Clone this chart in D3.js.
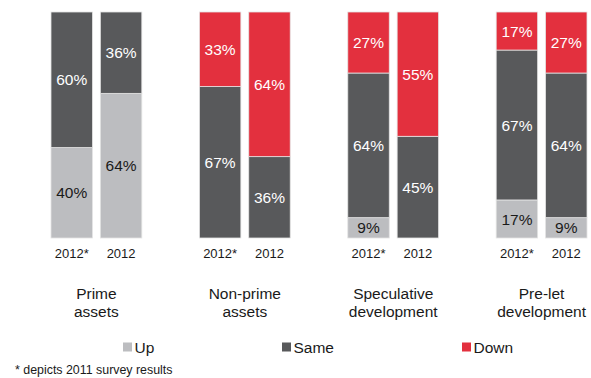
<!DOCTYPE html>
<html>
<head>
<meta charset="utf-8">
<script src="https://cdn.jsdelivr.net/npm/d3@7"></script>
<style>
  html, body { margin: 0; padding: 0; background: #fff; }
  svg { display: block; font-family: "Liberation Sans", Arial, sans-serif; }
</style>
</head>
<body>
<svg id="chart" width="591" height="378"></svg>
<script>
// Survey groups and the two years shown for each
const groups = ["Prime\nassets", "Non-prime\nassets", "Speculative\ndevelopment", "Pre-let\ndevelopment"];
const years = ["2012*", "2012"];
const seriesNames = ["Up", "Same", "Down"];
const seriesColors = ["#bcbdc0", "#58595b", "#e3303e"];
const labelColors = ["#1a1a1a", "#ffffff", "#ffffff"];

// Percentages per group, ordered [2012*, 2012]
const upValues   = [[40, 64], [0, 0],   [9, 0],   [17, 9]];
const sameValues = [[60, 36], [67, 36], [64, 45], [67, 64]];
const downValues = [[0, 0],   [33, 64], [27, 55], [17, 27]];

const footnote = "* depicts 2011 survey results";

const svg = d3.select("#chart");

const x0 = d3.scaleBand().domain(groups).range([51, 587]).paddingInner(0.388).paddingOuter(0);
const x1 = d3.scaleBand().domain(years).range([0, x0.bandwidth()]).paddingInner(0.16).paddingOuter(0);
const y = d3.scaleLinear().domain([0, 1]).range([238, 12]);

// Flatten into bar records with stacked segments (bottom to top: Up, Same, Down)
const bars = [];
groups.forEach((g, gi) => {
  years.forEach((yr, yi) => {
    const vals = [upValues[gi][yi], sameValues[gi][yi], downValues[gi][yi]];
    const total = d3.sum(vals);
    let acc = 0;
    const segs = vals.map((v, si) => {
      const s = { group: g, year: yr, series: si, value: v, y0: acc / total, y1: (acc + v) / total };
      acc += v;
      return s;
    });
    bars.push({ group: g, year: yr, segs });
  });
});

const barG = svg.append("g").selectAll("g.bar")
  .data(bars)
  .join("g")
  .attr("class", "bar")
  .attr("transform", d => `translate(${x0(d.group) + x1(d.year)},0)`);

barG.selectAll("rect")
  .data(d => d.segs.filter(s => s.value > 0))
  .join("rect")
  .attr("x", 0)
  .attr("width", x1.bandwidth())
  .attr("y", s => y(s.y1))
  .attr("height", s => y(s.y0) - y(s.y1))
  .attr("fill", s => seriesColors[s.series])
  .attr("stroke", "#e4e4e4")
  .attr("stroke-width", 0.8);

barG.selectAll("text.val")
  .data(d => d.segs.filter(s => s.value > 0))
  .join("text")
  .attr("class", "val")
  .attr("x", x1.bandwidth() / 2)
  .attr("y", s => (y(s.y0) + y(s.y1)) / 2)
  .attr("dy", "0.36em")
  .attr("text-anchor", "middle")
  .attr("font-size", 15.5)
  .attr("fill", s => labelColors[s.series])
  .text(s => s.value + "%");

// Year labels under each bar
svg.append("g").selectAll("text")
  .data(bars)
  .join("text")
  .attr("x", d => x0(d.group) + x1(d.year) + x1.bandwidth() / 2)
  .attr("y", 253)
  .attr("dy", "0.36em")
  .attr("text-anchor", "middle")
  .attr("font-size", 13)
  .attr("fill", "#1a1a1a")
  .text(d => d.year);

// Group names (two lines)
const gl = svg.append("g").selectAll("text")
  .data(groups)
  .join("text")
  .attr("text-anchor", "middle")
  .attr("font-size", 15.5)
  .attr("fill", "#1a1a1a")
  .attr("transform", d => `translate(${x0(d) + x0.bandwidth() / 2},293)`);
gl.selectAll("tspan")
  .data(d => d.split("\n"))
  .join("tspan")
  .attr("x", 0)
  .attr("y", (d, i) => i * 18)
  .attr("dy", "0.36em")
  .text(d => d);

// Legend
const legendX = [123, 282, 462];
const lg = svg.append("g").selectAll("g")
  .data(seriesNames)
  .join("g")
  .attr("transform", (d, i) => `translate(${legendX[i]},347)`);
lg.append("rect")
  .attr("x", 0).attr("y", -4.5)
  .attr("width", 9).attr("height", 9)
  .attr("fill", (d, i) => seriesColors[i]);
lg.append("text")
  .attr("x", 11.5)
  .attr("y", 0)
  .attr("dy", "0.36em")
  .attr("font-size", 15.5)
  .attr("fill", "#1a1a1a")
  .text(d => d);

// Footnote
svg.append("text")
  .attr("x", 15)
  .attr("y", 370)
  .attr("dy", "0.36em")
  .attr("font-size", 12.4)
  .attr("fill", "#1a1a1a")
  .text(footnote);
</script>
</body>
</html>
